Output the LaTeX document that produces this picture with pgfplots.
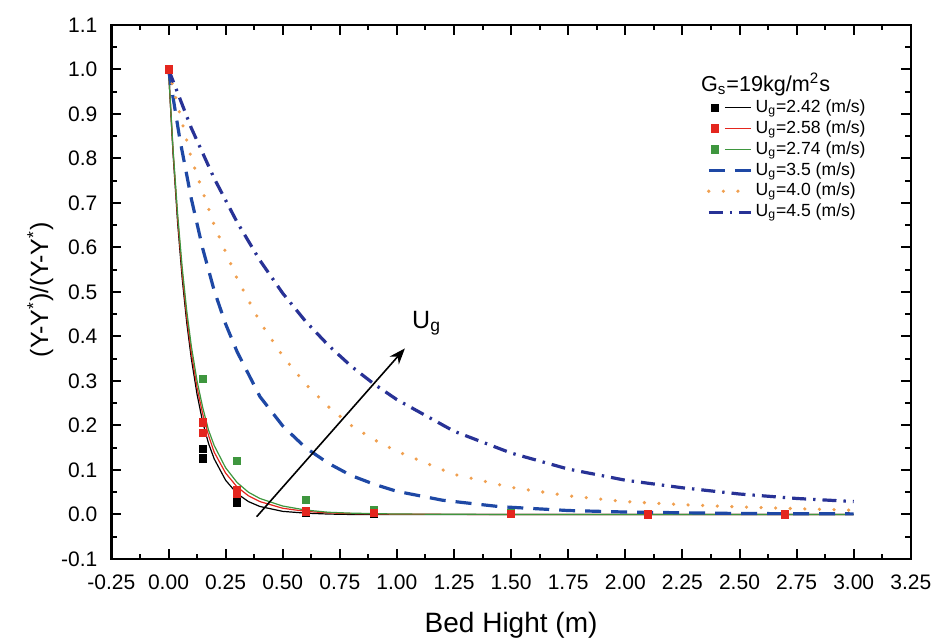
\documentclass[border=0pt]{standalone}
\usepackage{fontspec}
\setmainfont{Liberation Sans}
\usepackage{pgfplots}
\usepackage{pgfplotstable}
\pgfplotsset{compat=1.18}
\usetikzlibrary{arrows.meta}
\definecolor{cred}{RGB}{228,38,30}
\definecolor{cgreen}{RGB}{62,150,62}
\definecolor{cblue}{RGB}{30,72,165}
\definecolor{cnavy}{RGB}{40,50,150}
\definecolor{corange}{RGB}{240,160,80}
\pgfplotsset{legend image code/.code={\draw[#1] (0pt,0pt) -- (21pt,0pt);}}

\pgfplotstableread{
x y
0 1
0.02 0.81
0.04 0.655
0.06 0.53
0.08 0.43
0.10 0.35
0.125 0.27
0.15 0.207
0.175 0.16
0.2 0.125
0.25 0.077
0.3 0.047
0.35 0.029
0.4 0.018
0.5 0.007
0.6 0.003
0.7 0.001
0.8 0.0
1.0 0
1.5 0
2.0 0
2.5 0
3.0 0
}\fitA
\pgfplotstableread{
x y
0 1
0.02 0.815
0.04 0.665
0.06 0.542
0.08 0.443
0.10 0.363
0.125 0.285
0.15 0.225
0.175 0.178
0.2 0.14
0.25 0.093
0.3 0.062
0.35 0.042
0.4 0.029
0.5 0.014
0.6 0.007
0.7 0.0035
0.8 0.002
1.0 0.0005
1.5 0
2.0 0
2.5 0
3.0 0
}\fitB
\pgfplotstableread{
x y
0 1
0.02 0.82
0.04 0.675
0.06 0.555
0.08 0.457
0.10 0.378
0.125 0.3
0.15 0.24
0.175 0.19
0.2 0.155
0.25 0.105
0.3 0.072
0.35 0.05
0.4 0.036
0.5 0.019
0.6 0.01
0.7 0.005
0.8 0.003
1.0 0.001
1.5 0
2.0 0
2.5 0
3.0 0
}\fitC
\pgfplotstableread{
x y
0 1
0.05 0.842
0.1 0.709
0.15 0.597
0.2 0.503
0.25 0.428
0.3 0.366
0.4 0.265
0.5 0.199
0.6 0.15
0.7 0.115
0.8 0.0875
0.9 0.068
1.0 0.052
1.2 0.032
1.45 0.0176
1.75 0.0089
2.0 0.0055
2.5 0.0022
3.0 0.0014
}\fitD
\pgfplotstableread{
x y
0 1
0.1 0.80
0.2 0.65
0.3 0.53
0.4 0.433
0.5 0.356
0.6 0.293
0.7 0.242
0.8 0.2
0.9 0.168
1.0 0.142
1.25 0.09
1.5 0.061
1.75 0.042
2.0 0.029
2.25 0.022
2.5 0.017
2.75 0.013
3.0 0.0095
}\fitE
\pgfplotstableread{
x y
0 1
0.1 0.868
0.2 0.755
0.3 0.657
0.4 0.571
0.5 0.497
0.6 0.434
0.7 0.38
0.8 0.333
0.9 0.293
1.0 0.258
1.25 0.187
1.5 0.138
1.75 0.102
2.0 0.077
2.25 0.060
2.5 0.046
2.75 0.036
3.0 0.029
}\fitF

\begin{document}
\begin{tikzpicture}
\useasboundingbox (-55.7pt,-39pt) rectangle (409.8pt,279.5pt);
\begin{axis}[
  scale only axis, width=399.7pt, height=267.1pt,
  xmin=-0.25, xmax=3.25, ymin=-0.1, ymax=1.1,
  xtick={-0.25,0,0.25,0.5,0.75,1,1.25,1.5,1.75,2,2.25,2.5,2.75,3,3.25},
  ytick={-0.1,0,0.1,0.2,0.3,0.4,0.5,0.6,0.7,0.8,0.9,1.0,1.1},
  minor x tick num=1, minor y tick num=1,
  tick align=inside, major tick length=5pt, minor tick length=2.7pt,
  axis line style={line width=1.2pt},
  every tick/.style={black, line width=1pt},
  tick label style={font=\fontsize{10.5}{12}\selectfont},
  /pgf/number format/assume math mode=true,
  xticklabel style={/pgf/number format/.cd, fixed, fixed zerofill, precision=2, /tikz/.cd, yshift=-4.5pt},
  yticklabel style={/pgf/number format/.cd, fixed, fixed zerofill, precision=1, /tikz/.cd, xshift=-3.5pt},
  scaled ticks=false,
  xlabel={Bed Hight (m)},
  ylabel={(Y-Y\textsuperscript{*})/(Y-Y\textsuperscript{*})},
  xlabel style={font=\fontsize{14}{16}\selectfont, at={(axis description cs:0.5,-0.1385)}, anchor=base},
  ylabel style={font=\fontsize{12.5}{14}\selectfont, at={(axis description cs:-0.089,0.504)}, anchor=center},
  legend cell align=left,
  legend style={at={(axis description cs:0.745,0.8645)}, anchor=north west, draw=none, fill=none,
    inner sep=0pt, outer sep=0pt, row sep=0pt, column sep=1.5pt,
    font=\fontsize{8.8}{10}\selectfont,
    nodes={inner sep=0pt, text height=7.6pt, text depth=2.85pt}},
]
\addplot[black, line width=0.6pt, no marks,
  legend image code/.code={\draw[black, line width=0.6pt] (8pt,0pt) -- (21pt,0pt); \fill[black] (1.2pt,-1.75pt) rectangle (4.7pt,1.75pt);}]
  table {\fitA};
\addlegendentry{U\textsubscript{g}=2.42 (m/s)}
\addplot[cred, line width=0.6pt, no marks,
  legend image code/.code={\draw[cred, line width=0.6pt] (8pt,0pt) -- (21pt,0pt); \fill[cred] (1.2pt,-1.75pt) rectangle (4.7pt,1.75pt);}]
  table {\fitB};
\addlegendentry{U\textsubscript{g}=2.58 (m/s)}
\addplot[cgreen, line width=0.6pt, no marks,
  legend image code/.code={\draw[cgreen, line width=0.6pt] (8pt,0pt) -- (21pt,0pt); \fill[cgreen] (1.2pt,-1.75pt) rectangle (4.7pt,1.75pt);}]
  table {\fitC};
\addlegendentry{U\textsubscript{g}=2.74 (m/s)}
\addplot[cblue, line width=1.6pt, no marks, dash pattern=on 8pt off 5pt]
  table {\fitD};
\addlegendentry{U\textsubscript{g}=3.5 (m/s)}
\addplot[corange, line width=1.8pt, no marks, line cap=round, dash pattern=on 0pt off 7.3pt]
  table {\fitE};
\addlegendentry{U\textsubscript{g}=4.0 (m/s)}
\addplot[cnavy, line width=1.6pt, no marks, dash pattern=on 7pt off 3.5pt on 1.2pt off 3.5pt]
  table {\fitF};
\addlegendentry{U\textsubscript{g}=4.5 (m/s)}

% experimental points
\addplot[only marks, mark=square*, mark size=1.8pt, black, forget plot] coordinates {
(0,1) (0.15,0.147) (0.15,0.126) (0.3,0.035) (0.3,0.027) (0.6,0.003) (0.9,0.002) (1.5,0.001) (2.1,0) (2.7,0)};
\addplot[only marks, mark=square*, mark size=1.8pt, cgreen, forget plot] coordinates {
(0,1) (0.15,0.304) (0.3,0.121) (0.6,0.032) (0.9,0.011) (1.5,0.003) (2.1,0.001) (2.7,0.001)};
\addplot[only marks, mark=square*, mark size=1.8pt, cred, forget plot] coordinates {
(0,1) (0.15,0.207) (0.15,0.184) (0.3,0.055) (0.3,0.047) (0.6,0.007) (0.9,0.004) (1.5,0.001) (2.1,0) (2.7,0)};

\draw[-{Stealth[length=8pt,width=6pt]}, line width=0.8pt] (axis cs:0.386,-0.005) -- (axis cs:1.035,0.373);
\node[font=\fontsize{12.5}{14}\selectfont, anchor=center] at (axis cs:1.13,0.43) {U\textsubscript{g}};
\node[font=\fontsize{10.8}{12}\selectfont, anchor=west, inner sep=0pt] at (axis cs:2.33,0.966) {G\textsubscript{s}=19kg/m\textsuperscript{2}s};
\end{axis}
\end{tikzpicture}
\end{document}
